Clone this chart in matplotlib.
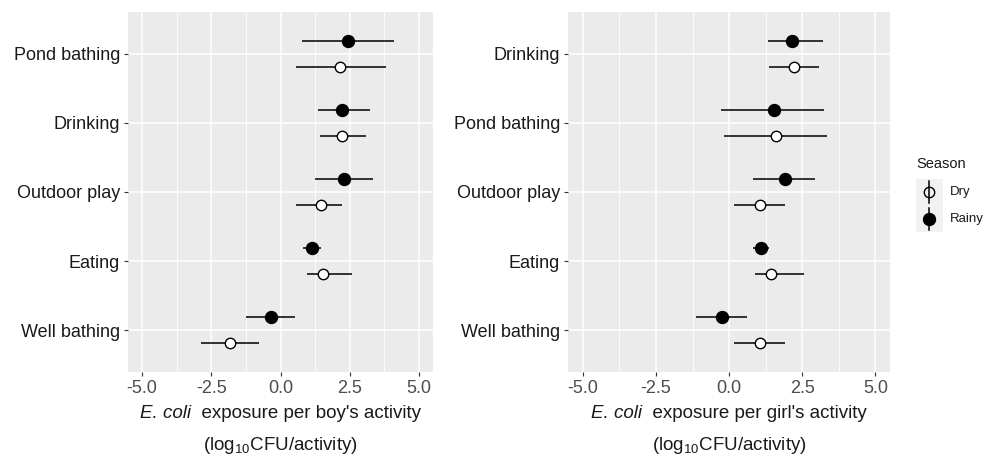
import matplotlib
matplotlib.use("Agg")
import matplotlib.pyplot as plt
import numpy as np

plt.rcParams['font.family'] = ['Liberation Sans', 'DejaVu Sans']
plt.rcParams['mathtext.fontset'] = 'custom'
plt.rcParams['mathtext.rm'] = 'Liberation Sans'
plt.rcParams['mathtext.it'] = 'Liberation Sans:italic'

# ---- data (top-to-bottom category order) ----
boy_categories = ["Pond bathing", "Drinking", "Outdoor play", "Eating", "Well bathing"]
boy_rainy = [2.45, 2.21, 2.29, 1.15, -0.35]
boy_rainy_lo = [0.78, 1.34, 1.24, 0.82, -1.23]
boy_rainy_hi = [4.09, 3.24, 3.34, 1.48, 0.52]
boy_dry = [2.15, 2.22, 1.45, 1.54, -1.83]
boy_dry_lo = [0.57, 1.41, 0.57, 0.95, -2.87]
boy_dry_hi = [3.80, 3.09, 2.24, 2.58, -0.78]

girl_categories = ["Drinking", "Pond bathing", "Outdoor play", "Eating", "Well bathing"]
girl_rainy = [2.16, 1.53, 1.91, 1.09, -0.26]
girl_rainy_lo = [1.32, -0.28, 0.82, 0.83, -1.12]
girl_rainy_hi = [3.22, 3.26, 2.94, 1.37, 0.61]
girl_dry = [2.21, 1.60, 1.04, 1.44, 1.04]
girl_dry_lo = [1.37, -0.17, 0.15, 0.90, 0.15]
girl_dry_hi = [3.06, 3.34, 1.91, 2.55, 1.91]

x_ticks = [-5.0, -2.5, 0.0, 2.5, 5.0]
x_ticklabels = ["-5.0", "-2.5", "0.0", "2.5", "5.0"]
seasons = ["Dry", "Rainy"]

W, H = 986, 458
fig = plt.figure(figsize=(W / 100, H / 100), dpi=100)

def px_axes(x0, y0, x1, y1):
    return fig.add_axes([x0 / W, 1 - y1 / H, (x1 - x0) / W, (y1 - y0) / H])

PANEL = "#EBEBEB"
DODGE = 0.19
MS_FILLED = 8.6
MS_OPEN = 7.5

def draw(ax, cats, r, rlo, rhi, d, dlo, dhi):
    n = len(cats)
    pos = np.arange(n, 0, -1)
    ax.set_facecolor(PANEL)
    for s in ax.spines.values():
        s.set_visible(False)
    ax.set_xlim(-5.5, 5.5)
    ax.set_ylim(0.4, n + 0.6)
    ax.set_xticks(x_ticks)
    ax.set_xticklabels(x_ticklabels)
    ax.set_xticks([-3.75, -1.25, 1.25, 3.75], minor=True)
    ax.set_yticks(pos)
    ax.set_yticklabels(cats)
    ax.grid(True, which='major', color='white', lw=1.1)
    ax.grid(True, which='minor', axis='x', color='white', lw=0.6)
    ax.set_axisbelow(True)
    ax.tick_params(axis='both', which='major', length=3, width=0.8, color='#333333')
    ax.tick_params(axis='x', which='major', labelsize=13, labelcolor='#4D4D4D', pad=3)
    ax.tick_params(axis='y', which='major', labelsize=13, labelcolor='#1A1A1A', pad=3)
    ax.tick_params(which='minor', length=0)
    r, rlo, rhi = map(np.asarray, (r, rlo, rhi))
    d, dlo, dhi = map(np.asarray, (d, dlo, dhi))
    ax.errorbar(r, pos + DODGE, xerr=[r - rlo, rhi - r], fmt='o', color='black',
                ms=MS_FILLED, mfc='black', mec='black', elinewidth=1.1, capsize=0, zorder=3)
    ax.errorbar(d, pos - DODGE, xerr=[d - dlo, dhi - d], fmt='o', color='black',
                ms=MS_OPEN, mfc='white', mec='black', mew=1.0, elinewidth=1.1, capsize=0, zorder=3)

ax1 = px_axes(128.3, 12.3, 432.7, 371.7)
draw(ax1, boy_categories, boy_rainy, boy_rainy_lo, boy_rainy_hi, boy_dry, boy_dry_lo, boy_dry_hi)
ax2 = px_axes(568.3, 12.3, 890, 371.7)
draw(ax2, girl_categories, girl_rainy, girl_rainy_lo, girl_rainy_hi, girl_dry, girl_dry_lo, girl_dry_hi)

# axis titles
renderer = fig.canvas.get_renderer()
FS = 13.5
for cx, who in [((128.3 + 432.7) / 2, "boy's"), ((568.3 + 890) / 2, "girl's")]:
    t1 = fig.text(0, 1 - 413 / H, "E. coli", style='italic', ha='left', va='center',
                  fontsize=FS, color='#1A1A1A')
    t2 = fig.text(0, 1 - 413 / H, "  exposure per " + who + " activity", ha='left', va='center',
                  fontsize=FS, color='#1A1A1A')
    w1 = t1.get_window_extent(renderer).width
    w2 = t2.get_window_extent(renderer).width
    start = cx - (w1 + w2) / 2
    t1.set_x(start / W)
    t2.set_x((start + w1) / W)
    fig.text(cx / W, 1 - 446 / H, r"(log$_{10}$CFU/activity)",
             ha='center', va='center', fontsize=FS, color='#1A1A1A')

# legend
fig.text(916 / W, 1 - 164 / H, "Season", ha='left', va='center', fontsize=10.5, color='#1A1A1A')
kx0, kx1 = 916, 942.7
key_rows = [(179.3, 205.5), (205.5, 231.7)]
for (ky0, ky1), lab in zip(key_rows, seasons):
    kax = px_axes(kx0, ky0, kx1, ky1)
    kax.set_facecolor('#F2F2F2')
    kax.set_xlim(0, 1); kax.set_ylim(0, 1)
    kax.set_xticks([]); kax.set_yticks([])
    for s in kax.spines.values():
        s.set_visible(False)
    kax.plot([0.5, 0.5], [0.08, 0.92], color='black', lw=1.1)
    if lab == "Dry":
        kax.plot([0.5], [0.5], 'o', ms=MS_OPEN, mfc='none', mec='black', mew=1.0)
    else:
        kax.plot([0.5], [0.5], 'o', ms=MS_FILLED, mfc='black', mec='black')
    fig.text(950 / W, 1 - (ky0 + ky1) / 2 / H, lab, ha='left', va='center',
             fontsize=9.5, color='#1A1A1A')

fig.savefig("out.png", dpi=100, facecolor='white')
